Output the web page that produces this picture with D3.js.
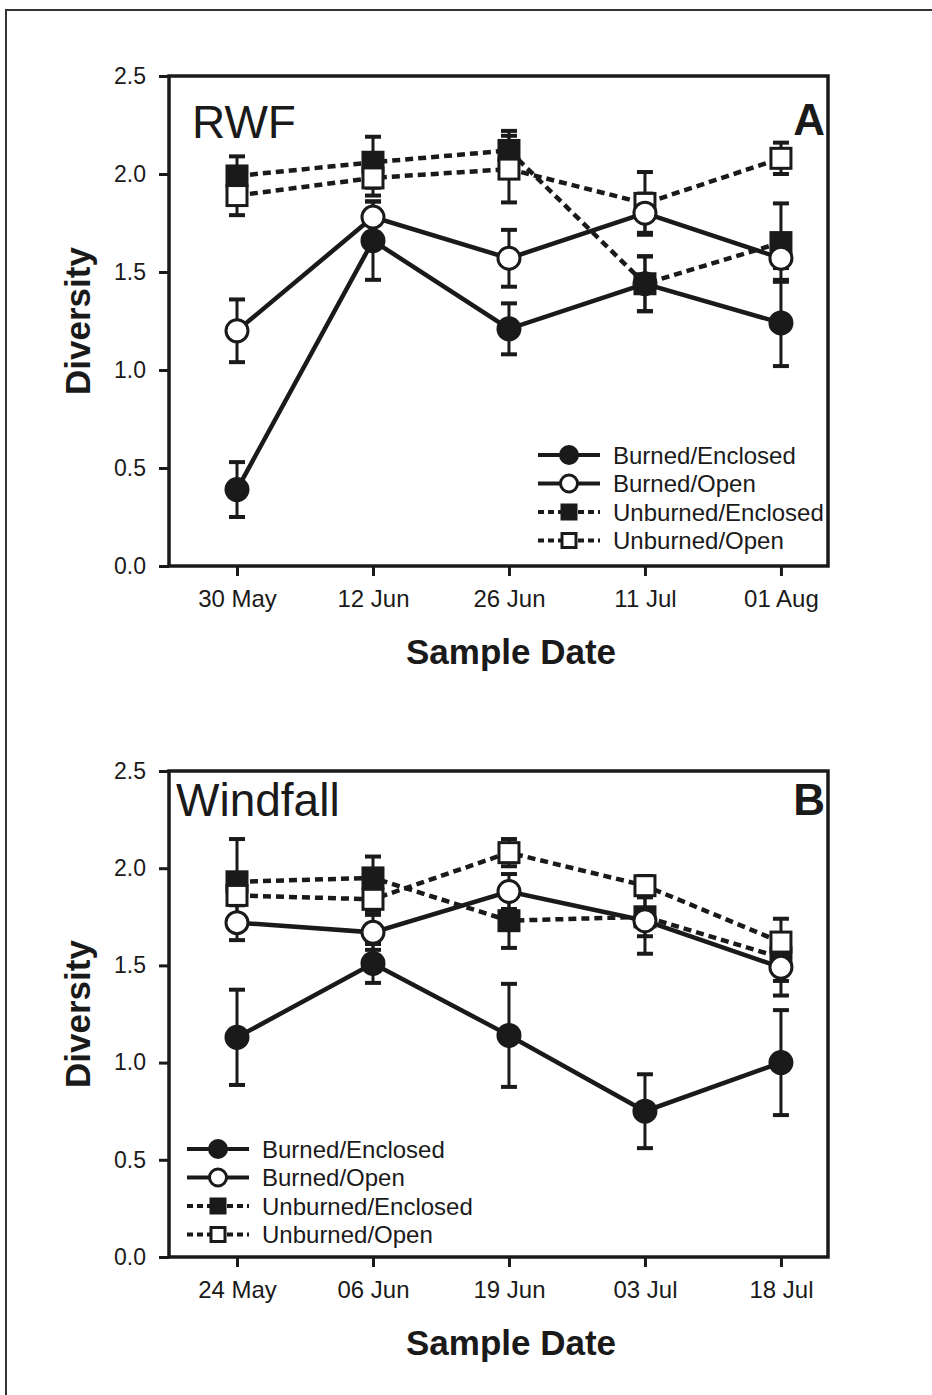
<!DOCTYPE html>
<html>
<head>
<meta charset="utf-8">
<script src="https://cdn.jsdelivr.net/npm/d3@7"></script>
<style>
  body { margin: 0; background: #fff; }
  svg { display: block; }
  text { font-family: "Liberation Sans", Arial, Helvetica, sans-serif; fill: #1a1a1a; }
</style>
</head>
<body>
<div id="chart_container"></div>
<script>
// data

let seriesNames = ["Burned/Enclosed", "Burned/Open", "Unburned/Enclosed", "Unburned/Open"];
let yTicks = [0, 0.5, 1.0, 1.5, 2.0, 2.5];

// panel A - RWF
let rwfDates = ["30 May", "12 Jun", "26 Jun", "11 Jul", "01 Aug"];
let rwfBurnedEnclosed     = [0.39, 1.66, 1.21, 1.44, 1.24];
let rwfBurnedEnclosedSE   = [0.14, 0.20, 0.13, 0.14, 0.22];
let rwfBurnedOpen         = [1.20, 1.78, 1.57, 1.80, 1.57];
let rwfBurnedOpenSE       = [0.16, 0.08, 0.145, 0.10, 0.05];
let rwfUnburnedEnclosed   = [1.99, 2.06, 2.12, 1.44, 1.65];
let rwfUnburnedEnclosedSE = [0.10, 0.13, 0.10, 0.14, 0.20];
let rwfUnburnedOpen       = [1.89, 1.98, 2.025, 1.85, 2.08];
let rwfUnburnedOpenSE     = [0.10, 0.09, 0.17, 0.16, 0.08];

// panel B - Windfall
let wfDates = ["24 May", "06 Jun", "19 Jun", "03 Jul", "18 Jul"];
let wfBurnedEnclosed     = [1.13, 1.51, 1.14, 0.75, 1.00];
let wfBurnedEnclosedSE   = [0.245, 0.10, 0.265, 0.19, 0.27];
let wfBurnedOpen         = [1.72, 1.67, 1.88, 1.73, 1.49];
let wfBurnedOpenSE       = [0.09, 0.09, 0.09, 0.17, 0.145];
let wfUnburnedEnclosed   = [1.93, 1.95, 1.73, 1.75, 1.54];
let wfUnburnedEnclosedSE = [0.22, 0.11, 0.14, 0.10, 0.12];
let wfUnburnedOpen       = [1.86, 1.84, 2.08, 1.91, 1.62];
let wfUnburnedOpenSE     = [0.05, 0.06, 0.07, 0.05, 0.12];

let svgWidth = 932;
let svgHeight = 1395;
let plotLeft = 169;
let plotRight = 828;
let ink = "#1a1a1a";

let svg = d3.select("#chart_container")
    .append("svg")
    .attr("width", svgWidth)
    .attr("height", svgHeight);

// page frame (scanned figure border)
svg.append("path")
    .attr("d", "M" + [6, svgHeight] + "L" + [6, 10] + "L" + [svgWidth, 10])
    .attr("fill", "none")
    .attr("stroke", "#333")
    .attr("stroke-width", 2);

// marker styles per series
let styles = [
  { shape: "circle", fill: ink, dashed: false },
  { shape: "circle", fill: "#fff", dashed: false },
  { shape: "square", fill: ink, dashed: true },
  { shape: "square", fill: "#fff", dashed: true }
];

function drawMarker(g, shape, fill, x, y, size) {
  if (shape === "circle") {
    g.append("circle")
        .attr("cx", x).attr("cy", y).attr("r", size / 2)
        .attr("fill", fill).attr("stroke", ink).attr("stroke-width", 3);
  } else {
    g.append("rect")
        .attr("x", x - size / 2).attr("y", y - size / 2)
        .attr("width", size).attr("height", size)
        .attr("fill", fill).attr("stroke", ink).attr("stroke-width", 3);
  }
}

function drawPanel({ top, bottom, dates, values, errors, site, siteX, siteY, letter, letterY, legendX, legendY }) {
  let g = svg.append("g");

  let xScale = d3.scaleLinear()
      .domain([-0.5, 4.346])
      .range([plotLeft, plotRight]);

  let yScale = d3.scaleLinear()
      .domain([0, 2.5])
      .range([bottom, top]);

  // y axis
  let yAxis = d3.axisLeft(yScale)
      .tickValues(yTicks)
      .tickFormat(d3.format(".1f"))
      .tickSize(10)
      .tickPadding(13);

  let yG = g.append("g")
      .attr("transform", "translate(" + plotLeft + ",0)")
      .call(yAxis);
  yG.select(".domain").remove();
  yG.selectAll(".tick line").attr("stroke", ink).attr("stroke-width", 3);
  yG.selectAll(".tick text").attr("font-size", 23).attr("fill", "#333")
      .attr("font-family", "'Liberation Sans', Arial, sans-serif");

  // x axis
  let xAxis = d3.axisBottom(xScale)
      .tickValues(d3.range(dates.length))
      .tickFormat(i => dates[i])
      .tickSize(10)
      .tickPadding(14);

  let xG = g.append("g")
      .attr("transform", "translate(0," + bottom + ")")
      .call(xAxis);
  xG.select(".domain").remove();
  xG.selectAll(".tick line").attr("stroke", ink).attr("stroke-width", 3);
  xG.selectAll(".tick text").attr("font-size", 24).attr("fill", "#333")
      .attr("font-family", "'Liberation Sans', Arial, sans-serif");

  // plot frame
  g.append("rect")
      .attr("x", plotLeft).attr("y", top)
      .attr("width", plotRight - plotLeft).attr("height", bottom - top)
      .attr("fill", "none").attr("stroke", ink).attr("stroke-width", 3.5);

  // axis titles
  g.append("text")
      .attr("x", 511).attr("y", bottom + 98)
      .attr("text-anchor", "middle")
      .attr("font-size", 35).attr("font-weight", "bold")
      .text("Sample Date");

  g.append("text")
      .attr("transform", "translate(90," + ((top + bottom) / 2) + ") rotate(-90)")
      .attr("text-anchor", "middle")
      .attr("font-size", 35).attr("font-weight", "bold")
      .text("Diversity");

  // site and panel labels
  g.append("text")
      .attr("x", siteX).attr("y", top + siteY)
      .attr("font-size", 46)
      .text(site);

  g.append("text")
      .attr("x", plotRight - 3).attr("y", top + letterY)
      .attr("text-anchor", "end")
      .attr("font-size", 44).attr("font-weight", "bold")
      .text(letter);

  let line = d3.line()
      .x((d, i) => xScale(i))
      .y(d => yScale(d));

  // lines
  values.forEach((vals, s) => {
    g.append("path")
        .datum(vals)
        .attr("d", line)
        .attr("fill", "none")
        .attr("stroke", ink)
        .attr("stroke-width", 4.5)
        .attr("stroke-dasharray", styles[s].dashed ? "8,5" : null);
  });

  // error bars
  values.forEach((vals, s) => {
    vals.forEach((v, i) => {
      let x = xScale(i);
      let lo = yScale(v - errors[s][i]);
      let hi = yScale(v + errors[s][i]);
      g.append("line")
          .attr("x1", x).attr("x2", x).attr("y1", lo).attr("y2", hi)
          .attr("stroke", ink).attr("stroke-width", 3);
      [lo, hi].forEach(yy => {
        g.append("line")
            .attr("x1", x - 8).attr("x2", x + 8).attr("y1", yy).attr("y2", yy)
            .attr("stroke", ink).attr("stroke-width", 4);
      });
    });
  });

  // markers: unburned first, burned on top
  [2, 3, 0, 1].forEach(s => {
    values[s].forEach((v, i) => {
      let size = styles[s].shape === "circle" ? 22 : 20;
      drawMarker(g, styles[s].shape, styles[s].fill, xScale(i), yScale(v), size);
    });
  });

  // legend
  seriesNames.forEach((name, s) => {
    let ly = legendY + s * 28.5;
    g.append("line")
        .attr("x1", legendX).attr("x2", legendX + 62)
        .attr("y1", ly).attr("y2", ly)
        .attr("stroke", ink).attr("stroke-width", 4)
        .attr("stroke-dasharray", styles[s].dashed ? "6,4" : null);
    let size = styles[s].shape === "circle" ? 17 : 14;
    drawMarker(g, styles[s].shape, styles[s].fill, legendX + 31, ly, size);
    g.append("text")
        .attr("x", legendX + 75).attr("y", ly)
        .attr("dy", "0.36em")
        .attr("font-size", 24)
        .text(name);
  });
}

drawPanel({
  top: 76, bottom: 566,
  dates: rwfDates,
  values: [rwfBurnedEnclosed, rwfBurnedOpen, rwfUnburnedEnclosed, rwfUnburnedOpen],
  errors: [rwfBurnedEnclosedSE, rwfBurnedOpenSE, rwfUnburnedEnclosedSE, rwfUnburnedOpenSE],
  site: "RWF", siteX: 192, siteY: 62,
  letter: "A", letterY: 59,
  legendX: 538, legendY: 455
});

drawPanel({
  top: 771, bottom: 1257,
  dates: wfDates,
  values: [wfBurnedEnclosed, wfBurnedOpen, wfUnburnedEnclosed, wfUnburnedOpen],
  errors: [wfBurnedEnclosedSE, wfBurnedOpenSE, wfUnburnedEnclosedSE, wfUnburnedOpenSE],
  site: "Windfall", siteX: 176, siteY: 45,
  letter: "B", letterY: 44,
  legendX: 187, legendY: 1149
});
</script>
</body>
</html>
